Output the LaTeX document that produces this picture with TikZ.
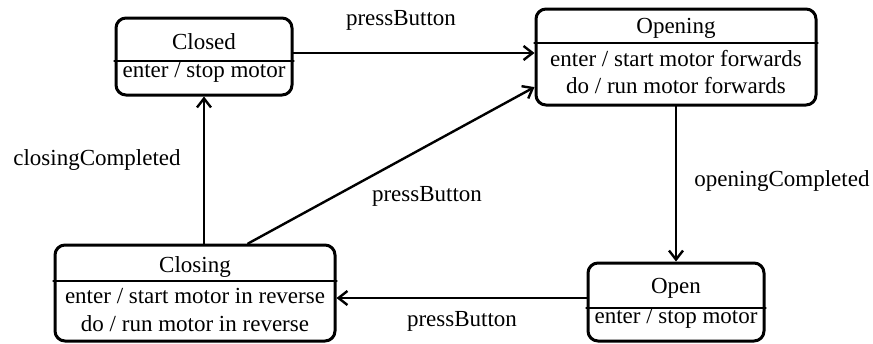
\documentclass[tikz,border=0pt]{standalone}
\usepackage{fontspec}
\setmainfont{Liberation Serif}
\usetikzlibrary{arrows.meta}
\tikzset{
	state/.style={draw,line width=1.5pt,rounded corners=5pt,inner sep=0pt},
	divider/.style={line width=1.4pt},
	trans/.style={->,line width=1.2pt},
	txt/.style={inner sep=1pt}
}
\begin{document}
\begin{tikzpicture}[>={Straight Barb[length=4.5pt,width=7pt]},x=0.5pt,y=-0.5pt,font=\fontsize{11.5}{13.8}\selectfont,line cap=round,line join=round]
	\useasboundingbox (0,0) rectangle (873,343);
	% states
	\node[state,minimum width=88pt,minimum height=38.5pt] (closed) at (204,56.5) {};
	\node[state,minimum width=140pt,minimum height=48pt] (opening) at (676,57) {};
	\node[state,minimum width=140pt,minimum height=48pt] (closing) at (195,293) {};
	\node[state,minimum width=88pt,minimum height=39pt] (open) at (676,302) {};
	\draw[divider] (closed.west |- 0,61) -- (closed.east |- 0,61);
	\draw[divider] (opening.west |- 0,43) -- (opening.east |- 0,43);
	\draw[divider] (closing.west |- 0,281) -- (closing.east |- 0,281);
	\draw[divider] (open.west |- 0,308) -- (open.east |- 0,308);
	% state texts
	\node[txt] (closedname) at (204,42) {Closed};
	\node[txt] (closedentry) at (204,72) {enter / stop motor};
	\node[txt] (openingname) at (676,28) {Opening};
	\node[txt] (openingentry) at (676,59) {enter / start motor forwards};
	\node[txt] (openingdo) at (676,86) {do / run motor forwards};
	\node[txt] (closingname) at (195,267) {Closing};
	\node[txt] (closingentry) at (195,296) {enter / start motor in reverse};
	\node[txt] (closingdo) at (195,324) {do / run motor in reverse};
	\node[txt] (openname) at (676,288) {Open};
	\node[txt] (openentry) at (676,318) {enter / stop motor};
	% transitions
	\draw[trans] (closed.east |- 0,53) -- (opening.west |- 0,53);
	\draw[trans] (closing.north -| closed.south) -- (closed.south);
	\draw[trans] (closing.43) -- (opening.192);
	\draw[trans] (opening.south) -- (open.north);
	\draw[trans] (open.west |- 0,298) -- (closing.east |- 0,298);
	\node[txt] (press1) at (401,20) {pressButton};
	\node[txt] (closingdone) at (97,160) {closingCompleted};
	\node[txt] (press2) at (427,196) {pressButton};
	\node[txt] (openingdone) at (782,181) {openingCompleted};
	\node[txt] (press3) at (462,321) {pressButton};
\end{tikzpicture}
\end{document}
